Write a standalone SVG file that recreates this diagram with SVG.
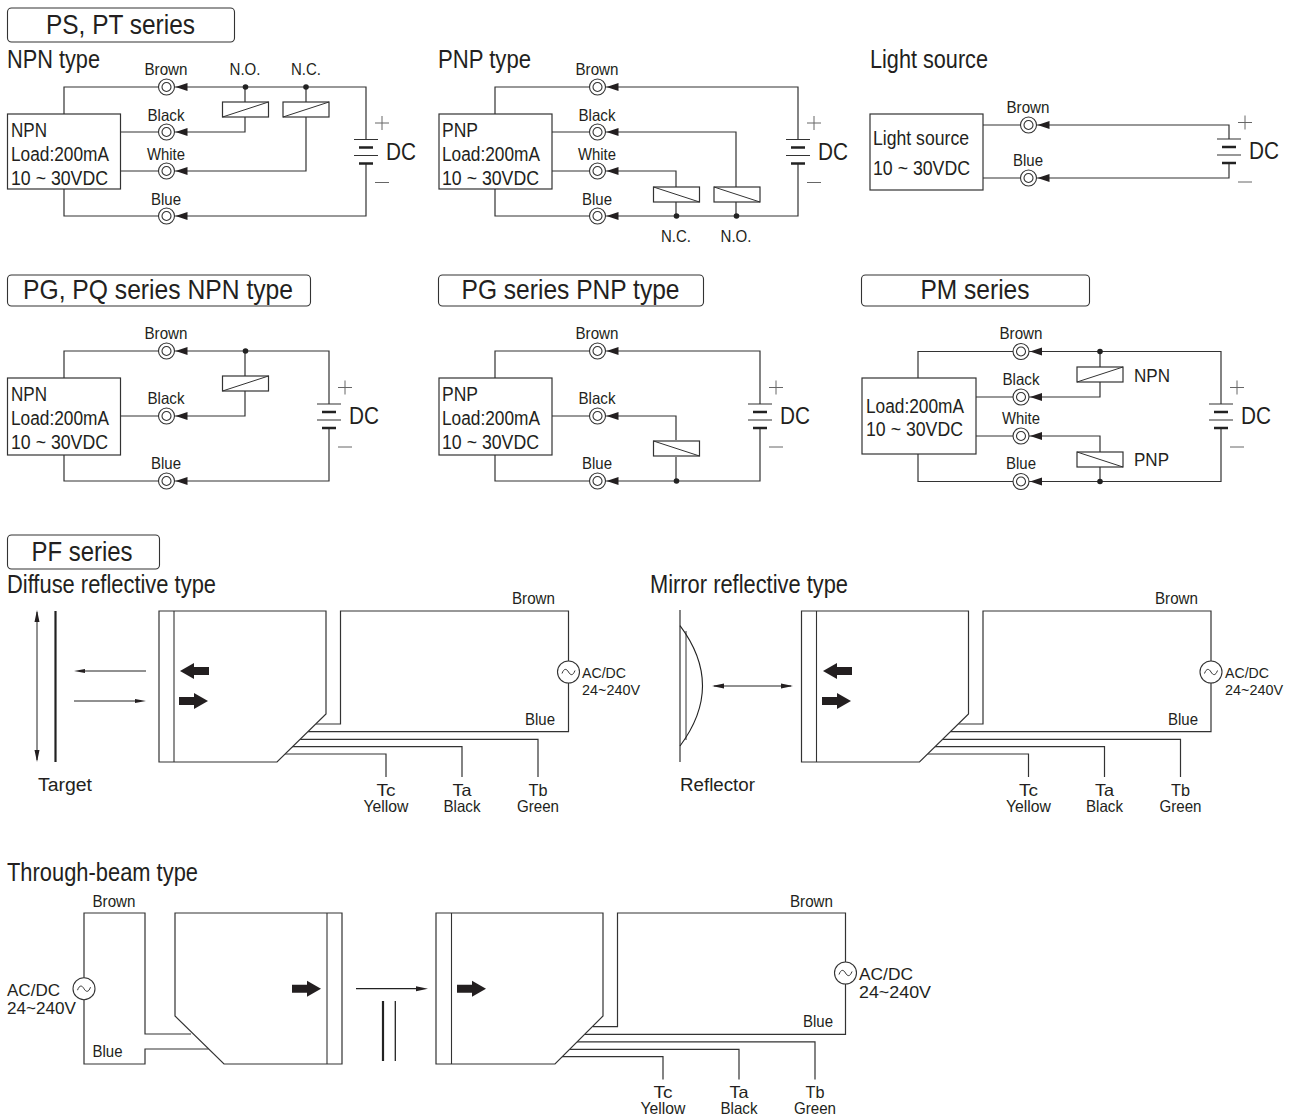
<svg xmlns="http://www.w3.org/2000/svg" xmlns:xlink="http://www.w3.org/1999/xlink" width="1295" height="1118" viewBox="0 0 1295 1118">
<style>
text{font-family:"Liberation Sans",Arial,sans-serif;fill:#231f20}
.h{font-size:28px;text-anchor:middle}
.ti{font-size:25px}
.b{font-size:20px}
.l{font-size:16.5px;text-anchor:middle}
.dc{font-size:23px}
.s{font-size:16.5px}
.m{font-size:18px}
.ac{font-size:16.5px}
.acs{font-size:14.5px}
.e{text-anchor:end}
.w{fill:none;stroke:#333;stroke-width:1.2}
.hd{fill:#fff;stroke:#333;stroke-width:1.1}
.box{fill:#fff;stroke:#333;stroke-width:1.2}
.th{fill:none;stroke:#222;stroke-width:1}
.blk{fill:#231f20;stroke:none}
</style>
<defs>
<g id="term"><path class="blk" d="M9 0L21 -4V4Z"/><circle r="8" fill="#fff" stroke="#333" stroke-width="1.1"/><circle r="4.5" fill="#fff" stroke="#333" stroke-width="1.1"/></g>
<g id="bat"><path d="M-12 -12H12M-12 4H12" stroke="#333" stroke-width="1.2" fill="none"/><path d="M-7 -4H7M-7 12H7" stroke="#222" stroke-width="2.6" fill="none"/><path d="M9 -28.500H23M16 -35.500V-21.500M9 31H23" stroke="#666" stroke-width="1" fill="none"/></g>
<g id="ru"><rect x="-23" y="-7.500" width="46" height="15" fill="#fff" stroke="#333" stroke-width="1.2"/><path d="M-23 7.500L23 -7.500" stroke="#333" stroke-width="1"/></g>
<g id="rd"><rect x="-23" y="-7.500" width="46" height="15" fill="#fff" stroke="#333" stroke-width="1.2"/><path d="M-23 -7.500L23 7.500" stroke="#333" stroke-width="1"/></g>
<circle id="dot" r="2.800" fill="#222"/>
<g id="src"><circle r="11" fill="#fff" stroke="#333" stroke-width="1.1"/><path d="M-6.500 1.500C-4.500 -4 -2 -3.500 0 0S4.500 4 6.500 -1.500" fill="none" stroke="#333" stroke-width="1"/></g>
<path id="tl" class="blk" d="M0 0L14 -8V-4H29V4H14V8Z"/>
<path id="tr" class="blk" d="M0 -4H15V-8L29 0L15 8V4H0Z"/>
<g id="body"><path d="M159 611H326V714L277 762H159Z" fill="#fff" stroke="#333" stroke-width="1.2"/><path d="M174 611V762" stroke="#333" stroke-width="1.1"/></g>
</defs>

<g id="connectors">
<!-- NPN type -->
<path class="w" d="M64 114V87H366V139.500M366 163.500V216H64V189M120 132H245V117M245 102V87M120 171H306V117M306 102V87"/>
<!-- PNP type -->
<path class="w" d="M495 114V87H798V139.500M798 163.500V216H495V189M552 132H736V187M736 202V216M552 171H676V187M676 202V216"/>
<!-- Light source -->
<path class="w" d="M983 125H1229V139M1229 163V178H983"/>
<!-- PG NPN -->
<path class="w" d="M64 378V351H329V404M329 428V481H64V455M120 416H245V391M245 376V351"/>
<!-- PG PNP -->
<path class="w" d="M495 378V351H760V404M760 428V481H495V455M552 416H676V440M676 457V481"/>
<!-- PM -->
<path class="w" d="M918 378V351.500H1221V404M1221 428V481.500H918V454M976 397H1100V382M1100 367V351.500M976 436H1100V452M1100 467V481.500"/>
<!-- PF Diffuse -->
<path class="w" d="M316 724H340.500V611H568.500V731.700H308M300 739.300H538V777M292 746.700H462V777M285 754H386V777"/>
<path d="M37 612V760" class="th"/><path class="blk" d="M37 610L39.500 622H34.500ZM37 762L39.500 750H34.500Z"/>
<path d="M55.500 611V762" stroke="#222" stroke-width="2.200"/>
<path d="M82 671H146M74 701H138" class="th"/><path class="blk" d="M74 671L85 669V673ZM146 701L135 699V703Z"/>
<!-- PF Mirror -->
<path class="w" d="M958.500 724H983V611H1211V731.700H950.500M942.500 739.300H1180.500V777M934.500 746.700H1104.500V777M927.500 754H1028.500V777"/>
<path d="M714 686H791" class="th"/><path class="blk" d="M712 686L724 683.500V688.500ZM793 686L781 683.500V688.500Z"/>
<!-- Through-beam -->
<path class="w" d="M191 1034H145V913H84V1064H145V1049H208.600"/>
<path d="M356 988.700H420" stroke="#222" stroke-width="1.200"/><path class="blk" d="M428 988.700L416 986.200V991.200Z"/>
<path d="M383 1001V1061" stroke="#222" stroke-width="2.200"/><path d="M395.300 1001V1061" stroke="#222" stroke-width="1.300"/>
<path class="w" d="M593 1026.600H617.500V913H845.500V1034.300H585M577 1041.900H815V1079.600M569 1049.300H739V1079.600M562 1056.600H663V1079.600"/>
</g>

<g id="hdr-ps"><rect class="hd" x="7.500" y="8" width="227" height="34" rx="4"/><text class="h" x="120.500" y="34" textLength="149" lengthAdjust="spacingAndGlyphs">PS, PT series</text></g>
<g id="title-npn"><text class="ti" x="7" y="68" textLength="93" lengthAdjust="spacingAndGlyphs">NPN type</text></g>
<g id="title-pnp"><text class="ti" x="438" y="68" textLength="93" lengthAdjust="spacingAndGlyphs">PNP type</text></g>
<g id="title-light"><text class="ti" x="870" y="68" textLength="118" lengthAdjust="spacingAndGlyphs">Light source</text></g>

<g id="box-npn1"><rect class="box" x="7.500" y="114" width="113" height="75"/><text class="b" x="11" y="137" textLength="36" lengthAdjust="spacingAndGlyphs">NPN</text><text class="b" x="11" y="161" textLength="98" lengthAdjust="spacingAndGlyphs">Load:200mA</text><text class="b" x="11" y="185" textLength="97" lengthAdjust="spacingAndGlyphs">10 ~ 30VDC</text></g>
<g id="t-npn1"><use xlink:href="#term" href="#term" x="166.500" y="87"/><use href="#term" x="166.500" y="132"/><use href="#term" x="166.500" y="171"/><use href="#term" x="166.500" y="216"/>
<text class="l" x="166" y="75" textLength="43" lengthAdjust="spacingAndGlyphs">Brown</text><text class="l" x="166" y="121" textLength="37" lengthAdjust="spacingAndGlyphs">Black</text><text class="l" x="166" y="160" textLength="38" lengthAdjust="spacingAndGlyphs">White</text><text class="l" x="166" y="205" textLength="30" lengthAdjust="spacingAndGlyphs">Blue</text></g>
<g id="relays-npn1"><use href="#ru" x="245.500" y="109.500"/><use href="#ru" x="306" y="109.500"/><use href="#dot" x="245.500" y="87"/><use href="#dot" x="306" y="87"/><text class="l" x="245" y="75" textLength="31" lengthAdjust="spacingAndGlyphs">N.O.</text><text class="l" x="306" y="75" textLength="30" lengthAdjust="spacingAndGlyphs">N.C.</text></g>
<g id="bat-npn1"><use href="#bat" x="366" y="151.500"/><text class="dc" x="386" y="160" textLength="30" lengthAdjust="spacingAndGlyphs">DC</text></g>

<g id="box-pnp1"><rect class="box" x="439" y="114" width="113" height="75"/><text class="b" x="442" y="137" textLength="36" lengthAdjust="spacingAndGlyphs">PNP</text><text class="b" x="442" y="161" textLength="98" lengthAdjust="spacingAndGlyphs">Load:200mA</text><text class="b" x="442" y="185" textLength="97" lengthAdjust="spacingAndGlyphs">10 ~ 30VDC</text></g>
<g id="t-pnp1"><use href="#term" x="597.500" y="87"/><use href="#term" x="597.500" y="132"/><use href="#term" x="597.500" y="171"/><use href="#term" x="597.500" y="216"/>
<text class="l" x="597" y="75" textLength="43" lengthAdjust="spacingAndGlyphs">Brown</text><text class="l" x="597" y="121" textLength="37" lengthAdjust="spacingAndGlyphs">Black</text><text class="l" x="597" y="160" textLength="38" lengthAdjust="spacingAndGlyphs">White</text><text class="l" x="597" y="205" textLength="30" lengthAdjust="spacingAndGlyphs">Blue</text></g>
<g id="relays-pnp1"><use href="#rd" x="676.500" y="194.500"/><use href="#rd" x="737" y="194.500"/><use href="#dot" x="676.500" y="216"/><use href="#dot" x="736.500" y="216"/><text class="l" x="676" y="242" textLength="30" lengthAdjust="spacingAndGlyphs">N.C.</text><text class="l" x="736" y="242" textLength="31" lengthAdjust="spacingAndGlyphs">N.O.</text></g>
<g id="bat-pnp1"><use href="#bat" x="798" y="151.500"/><text class="dc" x="818" y="160" textLength="30" lengthAdjust="spacingAndGlyphs">DC</text></g>

<g id="box-light"><rect class="box" x="870" y="114" width="113" height="76"/><text class="b" x="873" y="145" textLength="96" lengthAdjust="spacingAndGlyphs">Light source</text><text class="b" x="873" y="175" textLength="97" lengthAdjust="spacingAndGlyphs">10 ~ 30VDC</text></g>
<g id="t-light"><use href="#term" x="1028.500" y="125"/><use href="#term" x="1028.500" y="178"/><text class="l" x="1028" y="113" textLength="43" lengthAdjust="spacingAndGlyphs">Brown</text><text class="l" x="1028" y="166" textLength="30" lengthAdjust="spacingAndGlyphs">Blue</text></g>
<g id="bat-light"><use href="#bat" x="1229" y="151"/><text class="dc" x="1249" y="159" textLength="30" lengthAdjust="spacingAndGlyphs">DC</text></g>

<g id="hdr-pg1"><rect class="hd" x="7.500" y="275" width="303" height="31" rx="4"/><text class="h" x="158" y="299" textLength="270" lengthAdjust="spacingAndGlyphs">PG, PQ series NPN type</text></g>
<g id="hdr-pg2"><rect class="hd" x="438.500" y="275" width="265" height="31" rx="4"/><text class="h" x="570.500" y="299" textLength="218" lengthAdjust="spacingAndGlyphs">PG series PNP type</text></g>
<g id="hdr-pm"><rect class="hd" x="861.500" y="275" width="228" height="31" rx="4"/><text class="h" x="975" y="299" textLength="109" lengthAdjust="spacingAndGlyphs">PM series</text></g>

<g id="box-npn2"><rect class="box" x="7.500" y="378" width="113" height="77"/><text class="b" x="11" y="401" textLength="36" lengthAdjust="spacingAndGlyphs">NPN</text><text class="b" x="11" y="425" textLength="98" lengthAdjust="spacingAndGlyphs">Load:200mA</text><text class="b" x="11" y="449" textLength="97" lengthAdjust="spacingAndGlyphs">10 ~ 30VDC</text></g>
<g id="t-npn2"><use href="#term" x="166.500" y="351"/><use href="#term" x="166.500" y="416"/><use href="#term" x="166.500" y="481"/><text class="l" x="166" y="339" textLength="43" lengthAdjust="spacingAndGlyphs">Brown</text><text class="l" x="166" y="404" textLength="37" lengthAdjust="spacingAndGlyphs">Black</text><text class="l" x="166" y="469" textLength="30" lengthAdjust="spacingAndGlyphs">Blue</text></g>
<g id="relay-npn2"><use href="#ru" x="245.500" y="383.500"/><use href="#dot" x="245.500" y="351"/></g>
<g id="bat-npn2"><use href="#bat" x="329" y="416"/><text class="dc" x="349" y="424" textLength="30" lengthAdjust="spacingAndGlyphs">DC</text></g>

<g id="box-pnp2"><rect class="box" x="439" y="378" width="113" height="77"/><text class="b" x="442" y="401" textLength="36" lengthAdjust="spacingAndGlyphs">PNP</text><text class="b" x="442" y="425" textLength="98" lengthAdjust="spacingAndGlyphs">Load:200mA</text><text class="b" x="442" y="449" textLength="97" lengthAdjust="spacingAndGlyphs">10 ~ 30VDC</text></g>
<g id="t-pnp2"><use href="#term" x="597.500" y="351"/><use href="#term" x="597.500" y="416"/><use href="#term" x="597.500" y="481"/><text class="l" x="597" y="339" textLength="43" lengthAdjust="spacingAndGlyphs">Brown</text><text class="l" x="597" y="404" textLength="37" lengthAdjust="spacingAndGlyphs">Black</text><text class="l" x="597" y="469" textLength="30" lengthAdjust="spacingAndGlyphs">Blue</text></g>
<g id="relay-pnp2"><use href="#rd" x="676.500" y="448.500"/><use href="#dot" x="676.500" y="481"/></g>
<g id="bat-pnp2"><use href="#bat" x="760" y="416"/><text class="dc" x="780" y="424" textLength="30" lengthAdjust="spacingAndGlyphs">DC</text></g>

<g id="box-pm"><rect class="box" x="862" y="378" width="114" height="76"/><text class="b" x="866" y="413" textLength="98" lengthAdjust="spacingAndGlyphs">Load:200mA</text><text class="b" x="866" y="436" textLength="97" lengthAdjust="spacingAndGlyphs">10 ~ 30VDC</text></g>
<g id="t-pm"><use href="#term" x="1021" y="351.500"/><use href="#term" x="1021" y="397"/><use href="#term" x="1021" y="436"/><use href="#term" x="1021" y="481.500"/><text class="l" x="1021" y="339" textLength="43" lengthAdjust="spacingAndGlyphs">Brown</text><text class="l" x="1021" y="385" textLength="37" lengthAdjust="spacingAndGlyphs">Black</text><text class="l" x="1021" y="424" textLength="38" lengthAdjust="spacingAndGlyphs">White</text><text class="l" x="1021" y="469" textLength="30" lengthAdjust="spacingAndGlyphs">Blue</text></g>
<g id="relays-pm"><use href="#ru" x="1100" y="374.500"/><use href="#rd" x="1100" y="459.500"/><use href="#dot" x="1100" y="351.500"/><use href="#dot" x="1100" y="481.500"/><text class="m" x="1134" y="382" font-size="18" textLength="36" lengthAdjust="spacingAndGlyphs">NPN</text><text class="m" x="1134" y="466" textLength="35" lengthAdjust="spacingAndGlyphs">PNP</text></g>
<g id="bat-pm"><use href="#bat" x="1221" y="416"/><text class="dc" x="1241" y="424" textLength="30" lengthAdjust="spacingAndGlyphs">DC</text></g>

<g id="hdr-pf"><rect class="hd" x="7.500" y="535" width="152" height="34" rx="4"/><text class="h" x="82" y="561" textLength="101" lengthAdjust="spacingAndGlyphs">PF series</text></g>
<g id="title-diffuse"><text class="ti" x="7" y="593" textLength="209" lengthAdjust="spacingAndGlyphs">Diffuse reflective type</text></g>
<g id="title-mirror"><text class="ti" x="650" y="593" textLength="198" lengthAdjust="spacingAndGlyphs">Mirror reflective type</text></g>
<g id="title-through"><text class="ti" x="7" y="881" textLength="191" lengthAdjust="spacingAndGlyphs">Through-beam type</text></g>

<g id="target-d"><text class="m" x="38" y="791" textLength="54" lengthAdjust="spacingAndGlyphs">Target</text></g>
<g id="body-d"><use href="#body"/><use href="#tl" x="180" y="671"/><use href="#tr" x="179" y="701"/></g>
<g id="src-d"><use href="#src" x="568.500" y="672"/><text class="acs" x="582" y="678" textLength="44" lengthAdjust="spacingAndGlyphs">AC/DC</text><text class="acs" x="582" y="695" textLength="58" lengthAdjust="spacingAndGlyphs">24~240V</text></g>
<g id="labels-d"><text class="s e" x="555" y="604" textLength="43" lengthAdjust="spacingAndGlyphs">Brown</text><text class="s e" x="555" y="725" textLength="30" lengthAdjust="spacingAndGlyphs">Blue</text>
<text class="l" x="386" y="796" textLength="19" lengthAdjust="spacingAndGlyphs">Tc</text><text class="l" x="386" y="812" textLength="45" lengthAdjust="spacingAndGlyphs">Yellow</text><text class="l" x="462" y="796" textLength="19" lengthAdjust="spacingAndGlyphs">Ta</text><text class="l" x="462" y="812" textLength="37" lengthAdjust="spacingAndGlyphs">Black</text><text class="l" x="538" y="796" textLength="19" lengthAdjust="spacingAndGlyphs">Tb</text><text class="l" x="538" y="812" textLength="42" lengthAdjust="spacingAndGlyphs">Green</text></g>

<g id="reflector"><path d="M680 610V762" stroke="#333" stroke-width="1.2"/><path d="M686 631V740" stroke="#333" stroke-width="1"/><path d="M680 625.700Q725 685.800 680 746" fill="none" stroke="#222" stroke-width="1.100"/><text class="m" x="680" y="791" textLength="75" lengthAdjust="spacingAndGlyphs">Reflector</text></g>
<g id="body-m"><use href="#body" x="642.500"/><use href="#tl" x="823" y="671"/><use href="#tr" x="822" y="701"/></g>
<g id="src-m"><use href="#src" x="1211" y="672"/><text class="acs" x="1225" y="678" textLength="44" lengthAdjust="spacingAndGlyphs">AC/DC</text><text class="acs" x="1225" y="695" textLength="58" lengthAdjust="spacingAndGlyphs">24~240V</text></g>
<g id="labels-m"><text class="s e" x="1198" y="604" textLength="43" lengthAdjust="spacingAndGlyphs">Brown</text><text class="s e" x="1198" y="725" textLength="30" lengthAdjust="spacingAndGlyphs">Blue</text>
<text class="l" x="1028.500" y="796" textLength="19" lengthAdjust="spacingAndGlyphs">Tc</text><text class="l" x="1028.500" y="812" textLength="45" lengthAdjust="spacingAndGlyphs">Yellow</text><text class="l" x="1104.500" y="796" textLength="19" lengthAdjust="spacingAndGlyphs">Ta</text><text class="l" x="1104.500" y="812" textLength="37" lengthAdjust="spacingAndGlyphs">Black</text><text class="l" x="1180.500" y="796" textLength="19" lengthAdjust="spacingAndGlyphs">Tb</text><text class="l" x="1180.500" y="812" textLength="42" lengthAdjust="spacingAndGlyphs">Green</text></g>

<g id="src-t1"><use href="#src" x="84" y="988.700"/><text class="ac" x="7" y="996" textLength="53" lengthAdjust="spacingAndGlyphs">AC/DC</text><text class="ac" x="7" y="1014" textLength="69" lengthAdjust="spacingAndGlyphs">24~240V</text></g>
<g id="labels-t1"><text class="s" x="92.500" y="907" textLength="43" lengthAdjust="spacingAndGlyphs">Brown</text><text class="s" x="92.500" y="1057" textLength="30" lengthAdjust="spacingAndGlyphs">Blue</text></g>
<g id="emitter"><path d="M175 913H342V1064H224L175 1016Z" fill="#fff" stroke="#333" stroke-width="1.2"/><path d="M327 913V1064" stroke="#333" stroke-width="1.100"/><use href="#tr" x="292" y="988.700"/></g>
<g id="receiver"><path d="M436 913H603V1016L555 1064H436Z" fill="#fff" stroke="#333" stroke-width="1.2"/><path d="M451.500 913V1064" stroke="#333" stroke-width="1.100"/><use href="#tr" x="457" y="988.700"/></g>
<g id="src-t2"><use href="#src" x="845.500" y="973"/><text class="ac" x="859" y="980" textLength="54" lengthAdjust="spacingAndGlyphs">AC/DC</text><text class="ac" x="859" y="998" textLength="72" lengthAdjust="spacingAndGlyphs">24~240V</text></g>
<g id="labels-t2"><text class="s e" x="833" y="907" textLength="43" lengthAdjust="spacingAndGlyphs">Brown</text><text class="s e" x="833" y="1027" textLength="30" lengthAdjust="spacingAndGlyphs">Blue</text>
<text class="l" x="663" y="1098" textLength="19" lengthAdjust="spacingAndGlyphs">Tc</text><text class="l" x="663" y="1114" textLength="45" lengthAdjust="spacingAndGlyphs">Yellow</text><text class="l" x="739" y="1098" textLength="19" lengthAdjust="spacingAndGlyphs">Ta</text><text class="l" x="739" y="1114" textLength="37" lengthAdjust="spacingAndGlyphs">Black</text><text class="l" x="815" y="1098" textLength="19" lengthAdjust="spacingAndGlyphs">Tb</text><text class="l" x="815" y="1114" textLength="42" lengthAdjust="spacingAndGlyphs">Green</text></g>
</svg>
